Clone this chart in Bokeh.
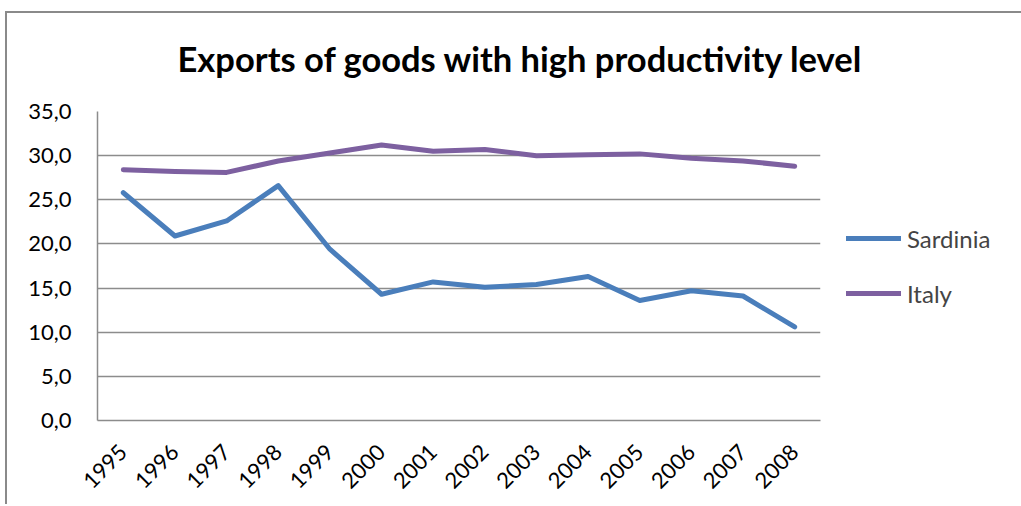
from math import pi
from bokeh.plotting import figure
from bokeh.models import (FactorRange, Range1d, FixedTicker, CustomJSTickFormatter,
                          Legend, LegendItem)
from bokeh.embed import file_html
from bokeh.resources import INLINE

years = ["1995", "1996", "1997", "1998", "1999", "2000", "2001",
         "2002", "2003", "2004", "2005", "2006", "2007", "2008"]
sardinia = [25.8, 20.9, 22.6, 26.6, 19.4, 14.3, 15.7, 15.1, 15.4, 16.3, 13.6, 14.7, 14.1, 10.6]
italy = [28.4, 28.2, 28.1, 29.4, 30.3, 31.2, 30.5, 30.7, 30.0, 30.1, 30.2, 29.7, 29.4, 28.8]
y_ticks = [0, 5, 10, 15, 20, 25, 30, 35]

FONT = "Lato"
GRID = "#8c8c8c"

p = figure(frame_width=723, frame_height=309, x_range=FactorRange(*years), y_range=Range1d(0, 35),
           output_backend="svg", toolbar_location=None,
           min_border_left=97, min_border_right=198, min_border_top=111, min_border_bottom=84)
p.styles = {
    "background-image": "linear-gradient(#8a8a8a, #8a8a8a), linear-gradient(#8a8a8a, #8a8a8a)",
    "background-size": "100% 2px, 2px 100%",
    "background-position": "5px 11px, 5px 11px",
    "background-repeat": "no-repeat",
}

p.title.text = "Exports of goods with high productivity level"
p.title.text_font = FONT
p.title.text_font_size = "34.5px"
p.title.text_font_style = "bold"
p.title.text_color = "black"
p.title.align = "left"
p.title.offset = 80
p.title.standoff = 66

p.outline_line_color = None
p.background_fill_color = "white"
p.border_fill_color = None

l1 = p.line(years, sardinia, line_color="#4A7EBB", line_width=5, line_cap="round", line_join="round")
l2 = p.line(years, italy, line_color="#7D60A0", line_width=5, line_cap="round", line_join="round")

p.xgrid.grid_line_color = None
p.ygrid.grid_line_color = GRID
p.ygrid.grid_line_width = 1.5
p.yaxis.ticker = FixedTicker(ticks=y_ticks)
p.yaxis.formatter = CustomJSTickFormatter(code="return tick.toFixed(1).replace('.', ',');")

for ax in (p.xaxis[0], p.yaxis[0]):
    ax.axis_line_color = GRID
    ax.axis_line_width = 1.5
    ax.major_tick_line_color = None
    ax.minor_tick_line_color = None
    ax.major_label_text_font = FONT
    ax.major_label_text_font_size = "22px"
    ax.major_label_text_color = "black"
p.yaxis.major_label_standoff = 20
p.xaxis.major_label_standoff = 22
p.xaxis.major_label_orientation = pi / 4

legend = Legend(items=[LegendItem(label="Sardinia", renderers=[l1]),
                       LegendItem(label="Italy", renderers=[l2])],
                location="center_left", orientation="vertical",
                border_line_color=None, background_fill_alpha=0,
                label_text_font=FONT, label_text_font_size="24px",
                glyph_width=55, glyph_height=24, label_height=24,
                label_standoff=6, spacing=26, padding=10, margin=26)
p.add_layout(legend, "right")

open("out.html", "w").write(file_html(p, INLINE))
